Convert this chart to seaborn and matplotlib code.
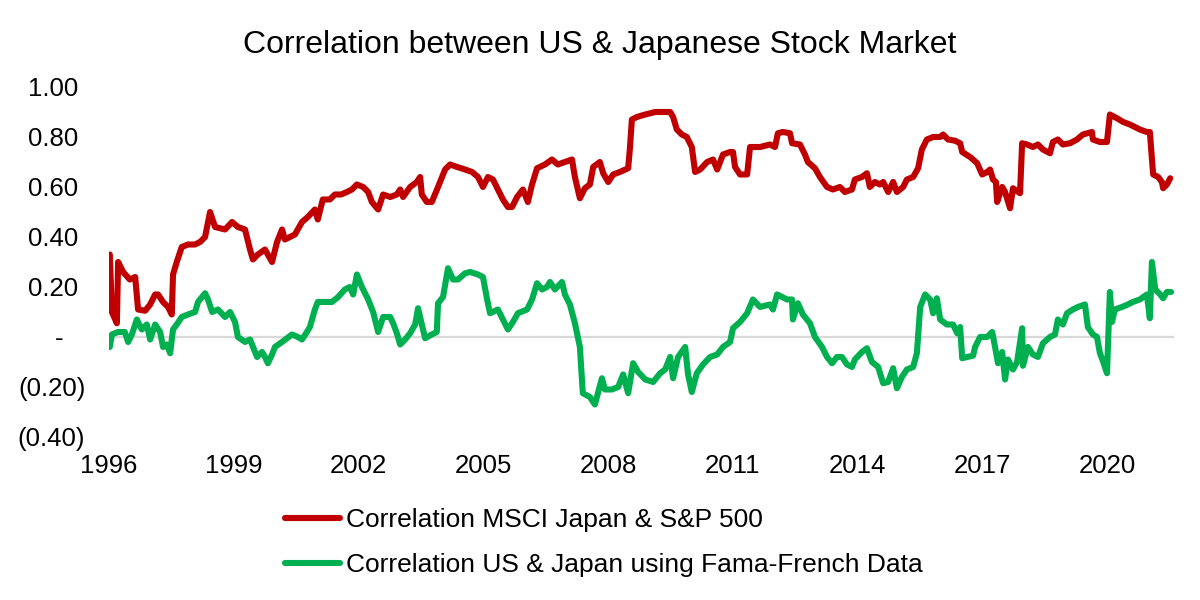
import numpy as np
import pandas as pd
import seaborn as sns
import matplotlib.pyplot as plt
from matplotlib.ticker import FuncFormatter

# rolling correlation, MSCI Japan vs S&P 500
msci_years = [
    1996.02, 1996.07, 1996.19, 1996.22, 1996.34, 1996.50, 1996.63, 1996.70, 1996.87, 1996.99,
    1997.11, 1997.18, 1997.30, 1997.42, 1997.51, 1997.54, 1997.63, 1997.75, 1997.90, 1998.07,
    1998.19, 1998.31, 1998.43, 1998.55, 1998.79, 1998.96, 1999.10, 1999.27, 1999.39, 1999.46,
    1999.58, 1999.75, 1999.92, 2000.04, 2000.16, 2000.23, 2000.47, 2000.64, 2000.78, 2000.95,
    2001.02, 2001.14, 2001.31, 2001.43, 2001.58, 2001.72, 2001.84, 2001.96, 2002.11, 2002.23,
    2002.32, 2002.47, 2002.59, 2002.76, 2002.92, 2003.00, 2003.07, 2003.24, 2003.40, 2003.48,
    2003.52, 2003.64, 2003.76, 2003.91, 2004.08, 2004.20, 2004.37, 2004.56, 2004.73, 2004.87,
    2004.99, 2005.11, 2005.23, 2005.35, 2005.47, 2005.59, 2005.69, 2005.81, 2005.95, 2006.07,
    2006.17, 2006.29, 2006.48, 2006.65, 2006.79, 2006.96, 2007.13, 2007.20, 2007.32, 2007.44,
    2007.56, 2007.64, 2007.80, 2007.88, 2008.00, 2008.12, 2008.28, 2008.48, 2008.52, 2008.57,
    2008.69, 2008.89, 2009.13, 2009.49, 2009.56, 2009.65, 2009.77, 2009.89, 2010.01, 2010.09,
    2010.21, 2010.38, 2010.52, 2010.62, 2010.76, 2010.93, 2011.00, 2011.05, 2011.17, 2011.34,
    2011.41, 2011.65, 2011.89, 2012.01, 2012.08, 2012.20, 2012.37, 2012.42, 2012.61, 2012.73,
    2012.80, 2012.97, 2013.09, 2013.26, 2013.40, 2013.57, 2013.69, 2013.86, 2013.93, 2014.10,
    2014.22, 2014.29, 2014.41, 2014.53, 2014.61, 2014.73, 2014.85, 2014.94, 2015.09, 2015.18,
    2015.33, 2015.45, 2015.54, 2015.66, 2015.81, 2015.98, 2016.05, 2016.17, 2016.34, 2016.46,
    2016.51, 2016.70, 2016.87, 2016.99, 2017.11, 2017.18, 2017.25, 2017.32, 2017.35, 2017.47,
    2017.54, 2017.66, 2017.73, 2017.90, 2017.95, 2018.07, 2018.21, 2018.33, 2018.45, 2018.62,
    2018.69, 2018.81, 2018.93, 2019.10, 2019.27, 2019.41, 2019.63, 2019.65, 2019.82, 2019.99,
    2020.06, 2020.23, 2020.38, 2020.54, 2020.78, 2020.95, 2021.02, 2021.10, 2021.22, 2021.31,
    2021.34, 2021.43, 2021.51,
]
msci_corr = [
    0.33, 0.10, 0.055, 0.30, 0.26, 0.23, 0.24, 0.11, 0.105, 0.13,
    0.17, 0.17, 0.14, 0.12, 0.09, 0.25, 0.30, 0.36, 0.37, 0.37,
    0.38, 0.40, 0.50, 0.44, 0.43, 0.46, 0.44, 0.43, 0.35, 0.31,
    0.33, 0.35, 0.30, 0.38, 0.43, 0.39, 0.41, 0.46, 0.48, 0.51,
    0.47, 0.55, 0.55, 0.57, 0.57, 0.58, 0.59, 0.61, 0.60, 0.58,
    0.54, 0.51, 0.57, 0.56, 0.57, 0.59, 0.56, 0.60, 0.62, 0.64,
    0.57, 0.54, 0.54, 0.60, 0.67, 0.69, 0.68, 0.67, 0.66, 0.64,
    0.60, 0.64, 0.63, 0.59, 0.55, 0.52, 0.52, 0.56, 0.59, 0.54,
    0.61, 0.675, 0.69, 0.71, 0.69, 0.70, 0.71, 0.64, 0.555, 0.595,
    0.61, 0.68, 0.70, 0.655, 0.62, 0.65, 0.66, 0.675, 0.75, 0.87,
    0.88, 0.89, 0.90, 0.90, 0.88, 0.83, 0.81, 0.80, 0.76, 0.66,
    0.67, 0.70, 0.71, 0.67, 0.73, 0.74, 0.74, 0.68, 0.65, 0.65,
    0.76, 0.76, 0.77, 0.76, 0.815, 0.82, 0.815, 0.775, 0.77, 0.73,
    0.70, 0.675, 0.64, 0.60, 0.59, 0.60, 0.58, 0.59, 0.63, 0.64,
    0.655, 0.60, 0.62, 0.61, 0.62, 0.58, 0.62, 0.58, 0.60, 0.63,
    0.64, 0.675, 0.75, 0.79, 0.80, 0.80, 0.81, 0.79, 0.785, 0.775,
    0.74, 0.72, 0.695, 0.65, 0.66, 0.67, 0.63, 0.62, 0.54, 0.60,
    0.58, 0.515, 0.595, 0.575, 0.775, 0.77, 0.76, 0.77, 0.75, 0.735,
    0.78, 0.79, 0.77, 0.775, 0.79, 0.81, 0.82, 0.79, 0.78, 0.78,
    0.89, 0.875, 0.86, 0.85, 0.83, 0.82, 0.82, 0.65, 0.64, 0.62,
    0.595, 0.61, 0.635,
]

# rolling correlation, US vs Japan from Fama-French data
ff_years = [
    1996.02, 1996.07, 1996.22, 1996.38, 1996.46, 1996.55, 1996.67, 1996.79, 1996.91, 1996.99,
    1997.11, 1997.23, 1997.30, 1997.39, 1997.47, 1997.54, 1997.63, 1997.75, 1997.90, 1998.07,
    1998.14, 1998.31, 1998.38, 1998.48, 1998.62, 1998.79, 1998.91, 1999.03, 1999.10, 1999.27,
    1999.39, 1999.56, 1999.68, 1999.75, 1999.82, 1999.92, 1999.99, 2000.16, 2000.40, 2000.54,
    2000.64, 2000.74, 2000.83, 2000.95, 2001.02, 2001.19, 2001.36, 2001.51, 2001.67, 2001.79,
    2001.87, 2001.96, 2002.08, 2002.23, 2002.35, 2002.47, 2002.59, 2002.76, 2002.83, 2002.92,
    2003.00, 2003.12, 2003.24, 2003.36, 2003.43, 2003.52, 2003.60, 2003.76, 2003.88, 2003.91,
    2004.03, 2004.15, 2004.27, 2004.39, 2004.56, 2004.68, 2004.87, 2004.99, 2005.09, 2005.16,
    2005.35, 2005.47, 2005.59, 2005.71, 2005.83, 2006.05, 2006.17, 2006.29, 2006.41, 2006.53,
    2006.60, 2006.72, 2006.89, 2006.96, 2007.08, 2007.20, 2007.32, 2007.39, 2007.56, 2007.68,
    2007.76, 2007.85, 2007.92, 2008.09, 2008.24, 2008.36, 2008.48, 2008.60, 2008.72, 2008.89,
    2009.08, 2009.25, 2009.37, 2009.49, 2009.56, 2009.68, 2009.85, 2009.92, 2010.01, 2010.13,
    2010.28, 2010.45, 2010.62, 2010.76, 2010.93, 2011.00, 2011.17, 2011.34, 2011.48, 2011.65,
    2011.89, 2011.96, 2012.06, 2012.30, 2012.42, 2012.44, 2012.56, 2012.68, 2012.85, 2012.97,
    2013.14, 2013.26, 2013.38, 2013.50, 2013.62, 2013.74, 2013.86, 2013.93, 2014.10, 2014.22,
    2014.34, 2014.49, 2014.61, 2014.73, 2014.85, 2014.94, 2015.06, 2015.18, 2015.33, 2015.42,
    2015.50, 2015.62, 2015.74, 2015.81, 2015.90, 2015.98, 2016.14, 2016.29, 2016.39, 2016.46,
    2016.51, 2016.63, 2016.77, 2016.82, 2016.94, 2017.11, 2017.23, 2017.30, 2017.37, 2017.47,
    2017.54, 2017.61, 2017.73, 2017.83, 2017.95, 2017.97, 2018.09, 2018.21, 2018.33, 2018.45,
    2018.62, 2018.74, 2018.81, 2018.93, 2019.03, 2019.17, 2019.29, 2019.46, 2019.53, 2019.65,
    2019.75, 2019.82, 2019.90, 2019.99, 2020.06, 2020.11, 2020.18, 2020.35, 2020.49, 2020.61,
    2020.78, 2020.95, 2021.02, 2021.07, 2021.15, 2021.27, 2021.34, 2021.43, 2021.53,
]
ff_corr = [
    -0.04, 0.01, 0.02, 0.02, -0.02, 0.01, 0.07, 0.03, 0.05, -0.01,
    0.05, 0.02, -0.04, -0.03, -0.065, 0.03, 0.05, 0.08, 0.09, 0.10,
    0.14, 0.175, 0.15, 0.10, 0.11, 0.08, 0.10, 0.06, 0.0, -0.02,
    -0.01, -0.08, -0.06, -0.08, -0.105, -0.07, -0.04, -0.02, 0.01, 0.0,
    -0.01, 0.015, 0.04, 0.11, 0.14, 0.14, 0.14, 0.16, 0.19, 0.20,
    0.17, 0.25, 0.20, 0.15, 0.10, 0.02, 0.08, 0.08, 0.055, 0.015,
    -0.03, -0.01, 0.015, 0.05, 0.115, 0.05, -0.005, 0.01, 0.02, 0.135,
    0.16, 0.275, 0.23, 0.23, 0.255, 0.26, 0.25, 0.24, 0.15, 0.095,
    0.11, 0.07, 0.03, 0.06, 0.095, 0.11, 0.15, 0.215, 0.19, 0.20,
    0.22, 0.19, 0.22, 0.17, 0.13, 0.055, -0.04, -0.225, -0.24, -0.27,
    -0.22, -0.165, -0.21, -0.21, -0.20, -0.15, -0.225, -0.105, -0.14, -0.17,
    -0.18, -0.145, -0.13, -0.08, -0.165, -0.08, -0.04, -0.15, -0.22, -0.145,
    -0.11, -0.08, -0.07, -0.04, -0.02, 0.035, 0.06, 0.095, 0.15, 0.12,
    0.13, 0.11, 0.17, 0.15, 0.15, 0.07, 0.135, 0.09, 0.055, 0.0,
    -0.04, -0.08, -0.105, -0.08, -0.08, -0.11, -0.12, -0.09, -0.06, -0.045,
    -0.10, -0.12, -0.185, -0.18, -0.125, -0.205, -0.16, -0.13, -0.12, -0.065,
    0.12, 0.17, 0.15, 0.095, 0.155, 0.07, 0.05, 0.05, 0.015, 0.04,
    -0.085, -0.08, -0.075, -0.04, 0.0, 0.0, 0.02, -0.04, -0.105, -0.06,
    -0.17, -0.09, -0.13, -0.10, 0.035, -0.115, -0.04, -0.07, -0.08, -0.025,
    0.0, 0.01, 0.07, 0.05, 0.095, 0.11, 0.12, 0.13, 0.04, 0.01,
    0.0, -0.065, -0.10, -0.145, 0.18, 0.06, 0.11, 0.12, 0.13, 0.14,
    0.15, 0.17, 0.075, 0.30, 0.19, 0.17, 0.155, 0.18, 0.18,
]

msci_label = 'Correlation MSCI Japan & S&P 500'
ff_label = 'Correlation US & Japan using Fama-French Data'
year_ticks = [1996, 1999, 2002, 2005, 2008, 2011, 2014, 2017, 2020]
corr_ticks = [1.0, 0.8, 0.6, 0.4, 0.2, 0.0, -0.2, -0.4]


def accounting(v, pos):
    # excel accounting style: dash for zero, brackets for negatives
    if abs(v) < 1e-9:
        return '-   '
    if v < 0:
        return f'({abs(v):.2f})'
    return f'{v:.2f} '


df = pd.concat([
    pd.DataFrame({'year': msci_years, 'corr': msci_corr, 'series': msci_label}),
    pd.DataFrame({'year': ff_years, 'corr': ff_corr, 'series': ff_label}),
])

sns.set_style('white')
plt.rcParams['font.family'] = ['Liberation Sans', 'DejaVu Sans']
plt.rcParams['text.color'] = 'black'
plt.rcParams['xtick.color'] = 'black'
plt.rcParams['ytick.color'] = 'black'

fig = plt.figure(figsize=(12, 6), dpi=100)
ax = fig.add_axes([0.0908, 0.2717, 0.8875, 0.5833])

ax.axhline(0, color='#D9D9D9', lw=1.6, zorder=0)
sns.lineplot(data=df, x='year', y='corr', hue='series',
             palette={msci_label: '#C00000', ff_label: '#00B050'},
             estimator=None, sort=False, linewidth=4.4, legend=False, ax=ax,
             solid_joinstyle='round', solid_capstyle='round')

ax.set_xlim(1996, 2021.6)
ax.set_ylim(-0.4, 1.0)
ax.set_xticks(year_ticks)
ax.set_yticks(corr_ticks)
ax.yaxis.set_major_formatter(FuncFormatter(accounting))
ax.tick_params(axis='y', length=0, pad=17, labelsize=18.5)
ax.tick_params(axis='x', length=0, pad=12, labelsize=18.5)
ax.set_xlabel('')
ax.set_ylabel('')
sns.despine(ax=ax, left=True, bottom=True)

fig.suptitle('Correlation between US & Japanese Stock Market', fontsize=23, y=0.95)

fig.legend(ax.lines[1:3], [msci_label, ff_label], loc='center left',
           bbox_to_anchor=(285 / 1200, 0.0958), frameon=False, fontsize=19,
           handlelength=2.1, handletextpad=0.2, labelspacing=0.8,
           borderpad=0, borderaxespad=0)

fig.savefig('out.png', dpi=100)
